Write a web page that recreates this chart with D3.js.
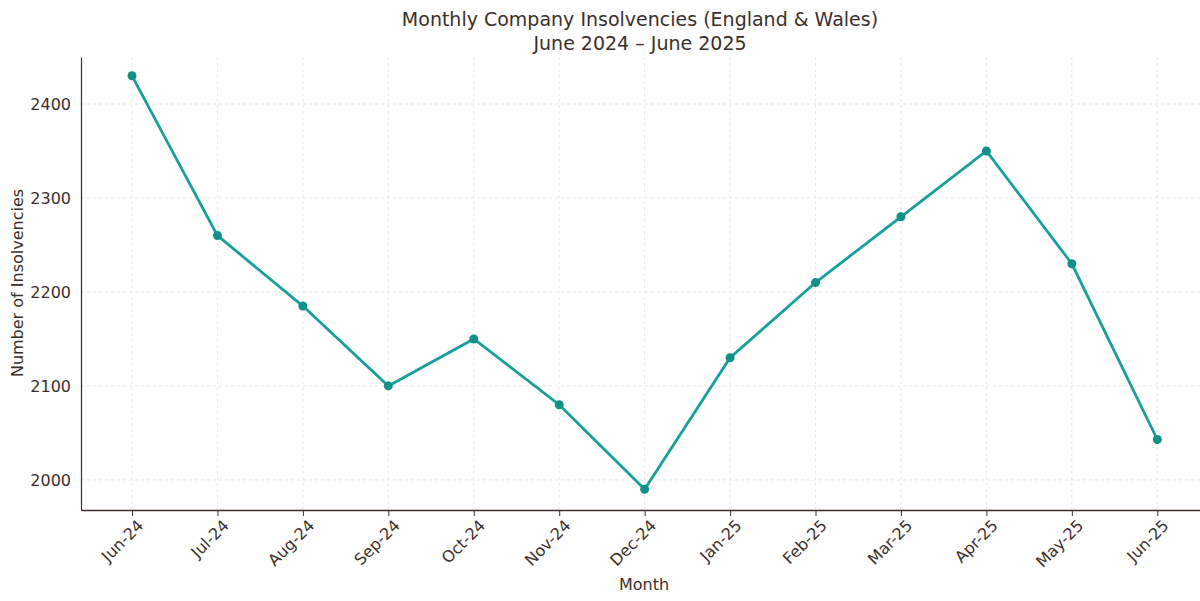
<!DOCTYPE html>
<html><head><meta charset="utf-8">
<script src="https://cdn.jsdelivr.net/npm/d3@7"></script>
<style>body{margin:0;background:#fff}text{font-family:"DejaVu Sans",sans-serif;fill:#3b2f2c}</style>
</head><body><svg id="c" width="1200" height="601"></svg>
<script>
const months=["Jun-24","Jul-24","Aug-24","Sep-24","Oct-24","Nov-24","Dec-24","Jan-25","Feb-25","Mar-25","Apr-25","May-25","Jun-25"];
const values=[2430,2260,2185,2100,2150,2080,1990,2130,2210,2280,2350,2230,2043];
const yTicks=[2000,2100,2200,2300,2400];
const svg=d3.select("#c");
const L=81,R=1200,T=57,B=510;
const x=d3.scaleLinear().domain([-0.597,12.5]).range([L,R]);
const y=d3.scaleLinear().domain([1968,2450]).range([B,T]);
const g=svg.append("g");
g.selectAll(".gx").data(months).join("line").attr("x1",(d,i)=>x(i)).attr("x2",(d,i)=>x(i)).attr("y1",T).attr("y2",B)
 .attr("stroke","#e2e2e2").attr("stroke-dasharray","3,3").attr("stroke-width",0.8);
g.selectAll(".gy").data(yTicks).join("line").attr("x1",L).attr("x2",R).attr("y1",d=>y(d)).attr("y2",d=>y(d))
 .attr("stroke","#e2e2e2").attr("stroke-dasharray","3,3").attr("stroke-width",0.8);
const xa=svg.append("g").attr("transform",`translate(0,${B})`)
 .call(d3.axisBottom(x).tickValues(d3.range(months.length)).tickFormat(i=>months[i]).tickSize(6).tickSizeOuter(0));
xa.select(".domain").attr("stroke","#3b2f2c").attr("stroke-width",1.5);
xa.selectAll(".tick line").attr("stroke","#3b2f2c");
xa.selectAll(".tick text").attr("font-size",16).attr("text-anchor","end").attr("dx","-0.2em").attr("dy","0.7em")
 .attr("transform","rotate(-45)");
const ya=svg.append("g").attr("transform",`translate(${L},0)`)
 .call(d3.axisLeft(y).tickValues(yTicks).tickFormat(d3.format("d")).tickSize(0).tickPadding(10).tickSizeOuter(0));
ya.select(".domain").attr("stroke","#3b2f2c").attr("stroke-width",1.2);
ya.selectAll(".tick text").attr("font-size",16);
svg.append("path").datum(values).attr("fill","none").attr("stroke","#17a09b").attr("stroke-width",2.8)
 .attr("d",d3.line().x((d,i)=>x(i)).y(d=>y(d)));
svg.selectAll(".pt").data(values).join("circle").attr("cx",(d,i)=>x(i)).attr("cy",d=>y(d)).attr("r",4.5).attr("fill","#138f8a");
svg.append("text").attr("x",640).attr("y",26).attr("text-anchor","middle").attr("font-size",19).text("Monthly Company Insolvencies (England & Wales)");
svg.append("text").attr("x",640).attr("y",50).attr("text-anchor","middle").attr("font-size",19).text("June 2024 – June 2025");
svg.append("text").attr("x",644).attr("y",590).attr("text-anchor","middle").attr("font-size",16).text("Month");
svg.append("text").attr("transform","translate(23,283) rotate(-90)").attr("text-anchor","middle").attr("font-size",16).text("Number of Insolvencies");
</script></body></html>
